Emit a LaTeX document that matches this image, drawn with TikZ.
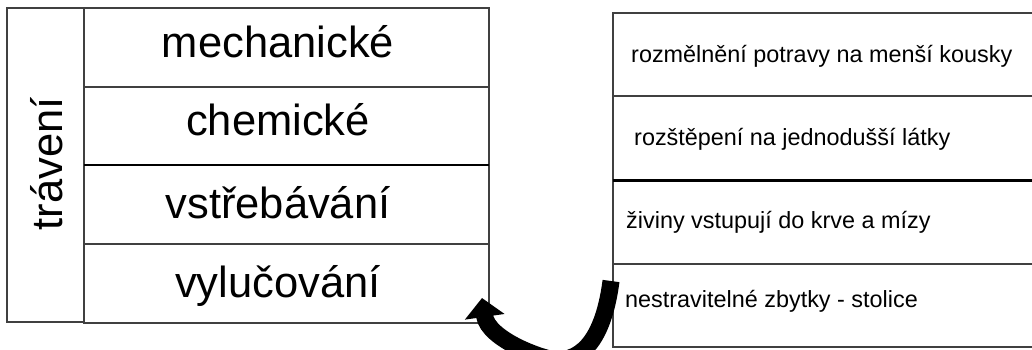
\documentclass[tikz,border=0pt]{standalone}
\usepackage{fontspec}
\setmainfont{Liberation Sans}
\usetikzlibrary{arrows.meta}
\tikzset{
	grid/.style={draw=black!75,line width=1.2pt},
	thickrule/.style={draw=black,line width=2.2pt},
	bigtext/.style={font=\fontsize{43.5}{50}\selectfont,inner sep=0pt,anchor=base},
	smalltext/.style={font=\fontsize{23.4}{28}\selectfont,inner sep=0pt,anchor=base west},
}
\begin{document}
\begin{tikzpicture}[x=1pt,y=-1pt]
	% page frame
	\path[use as bounding box,clip] (0,0) rectangle (1032,349);
	
	% left table: column x positions and row lines
	\def\xa{7}
	\def\xb{84}
	\def\xc{489}
	\draw[grid] (\xa,8) rectangle (\xb,322);
	\draw[grid] (\xb,8) rectangle (\xc,323);
	\draw[grid] (\xb,87) -- (\xc,87);
	\draw[thickrule] (\xb,165) -- (\xc,165);
	\draw[grid] (\xb,244) -- (\xc,244);
	
	% right table, open to the right
	\def\xr{613}
	\draw[grid] (1040,13) -- (\xr,13) -- (\xr,347) -- (1040,347);
	\draw[grid] (\xr,96) -- (1040,96);
	\draw[thickrule] (\xr,180.5) -- (1040,180.5);
	\draw[grid] (\xr,264) -- (1040,264);
	
	% labels of the left table
	\node[bigtext,rotate=90] (traveni) at (62,164) {trávení};
	\node[bigtext] (mech) at (278,57) {mechanické};
	\node[bigtext] (chem) at (278,135) {chemické};
	\node[bigtext] (vstreb) at (278,218) {vstřebávání};
	\node[bigtext] (vyluc) at (278,297) {vylučování};
	
	% labels of the right table
	\node[smalltext] (rozmel) at (631,62) {rozmělnění potravy na menší kousky};
	\node[smalltext] (rozstep) at (634,145) {rozštěpení na jednodušší látky};
	\node[smalltext] (ziviny) at (626,228) {živiny vstupují do krve a mízy};
	\node[smalltext] (zbytky) at (625,307) {nestravitelné zbytky - stolice};
	
	% curved arrow back to the left table
	\coordinate (tail) at (611,281);
	\coordinate (bottom) at (557,360);
	\coordinate (head) at (482,298);
	\draw[line width=17pt,-{Triangle[length=19pt,width=39pt]}] (tail) .. controls (606,320) and (592,360) .. (bottom) .. controls (545,360) and (488,340) .. (head);
	
\end{tikzpicture}
\end{document}
